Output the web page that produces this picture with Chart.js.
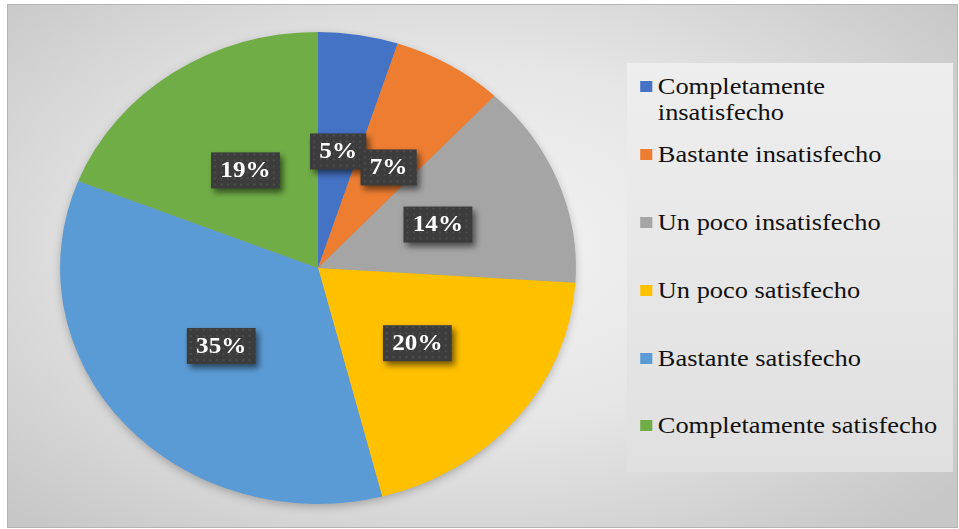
<!DOCTYPE html>
<html>
<head>
<meta charset="utf-8">
<script src="https://cdn.jsdelivr.net/npm/chart.js@4"></script>
<style>
  html, body { margin: 0; padding: 0; background: #ffffff; }
  #marco {
    position: absolute; left: 7px; top: 4px; width: 949px; height: 522px;
    border: 1px solid #b4b4b4;
    background: radial-gradient(ellipse 68% 72% at 48% 46%, #f4f4f4 0%, #e6e6e6 48%, #c7c7c7 100%);
  }
  #grafico { position: absolute; left: 0; top: 0; }
  #leyenda {
    position: absolute; left: 627px; top: 63px; width: 326px; height: 409px;
    background: linear-gradient(#eeeeee, #e0e0e0);
    overflow: hidden;
  }
  #leyenda .interior {
    width: 296px; padding-top: 10px;
    transform: scaleX(1.1); transform-origin: 0 0;
    font-family: "Liberation Serif", "Times New Roman", serif;
    font-size: 24px; line-height: 26px; color: #111;
  }
  #leyenda .item { height: 67.9px; display: flex; align-items: flex-start; }
  #leyenda .cuadro { width: 11px; height: 11px; margin: 8px 5px 0 12px; flex: none; }
  #leyenda .texto { width: 262px; }
</style>
</head>
<body>
<div id="marco"></div>
<canvas id="grafico" width="959" height="529"></canvas>
<div id="leyenda"><div class="interior"></div></div>
<script>
// Satisfacción: porcentaje por categoría
const categorias = [
  'Completamente insatisfecho',
  'Bastante insatisfecho',
  'Un poco insatisfecho',
  'Un poco satisfecho',
  'Bastante satisfecho',
  'Completamente satisfecho'
];
const porcentajes = [5, 7, 14, 20, 35, 19];
const colores = ['#4472C4', '#ED7D31', '#A5A5A5', '#FFC000', '#5B9BD5', '#70AD47'];

// el pastel va un poco estirado a lo ancho
const estiramiento = 1.093;
// pequeño desplazamiento de la etiqueta del 7% junto a la del 5%
const ajusteEtiquetas = { 1: [5, 1] };

function patronOscuro(ctx) {
  const c = document.createElement('canvas');
  c.width = 6; c.height = 6;
  const g = c.getContext('2d');
  g.fillStyle = '#3c3c3c';
  g.fillRect(0, 0, 6, 6);
  g.fillStyle = '#4c4c4c';
  g.fillRect(1, 1, 2, 2);
  return ctx.createPattern(c, 'repeat');
}

const pastelEstirado = {
  id: 'pastelEstirado',
  beforeDatasetsDraw(chart) {
    const arc = chart.getDatasetMeta(0).data[0];
    const { x, y, outerRadius } = arc.getProps(['x', 'y', 'outerRadius'], true);
    const ctx = chart.ctx;
    ctx.save();
    ctx.translate(x, y);
    ctx.scale(estiramiento, 1);
    ctx.translate(-x, -y);
    // sombra suave bajo el pastel
    ctx.save();
    ctx.shadowColor = 'rgba(0,0,0,0.28)';
    ctx.shadowBlur = 10;
    ctx.shadowOffsetY = 3;
    ctx.fillStyle = '#999';
    ctx.beginPath();
    ctx.arc(x, y, outerRadius - 1, 0, Math.PI * 2);
    ctx.fill();
    ctx.restore();
  },
  afterDatasetsDraw(chart) {
    chart.ctx.restore();
  }
};

const etiquetas = {
  id: 'etiquetas',
  afterDraw(chart) {
    const ctx = chart.ctx;
    const meta = chart.getDatasetMeta(0);
    const relleno = patronOscuro(ctx);
    meta.data.forEach((arc, i) => {
      const cx = arc.x;
      const p = arc.tooltipPosition(true);
      const aj = ajusteEtiquetas[i] || [0, 0];
      const x = cx + (p.x - cx) * estiramiento + aj[0];
      const y = p.y + aj[1];
      const texto = porcentajes[i] + '%';
      ctx.save();
      ctx.translate(x, y);
      ctx.scale(estiramiento, 1);
      ctx.font = 'bold 23px "Liberation Serif", "Times New Roman", serif';
      const w = ctx.measureText(texto).width + 17;
      const h = 36;
      ctx.save();
      ctx.shadowColor = 'rgba(0,0,0,0.55)';
      ctx.shadowBlur = 6;
      ctx.shadowOffsetX = 3;
      ctx.shadowOffsetY = 4;
      ctx.fillStyle = relleno;
      ctx.fillRect(-w / 2, -h / 2, w, h);
      ctx.restore();
      ctx.fillStyle = '#ffffff';
      ctx.textAlign = 'center';
      ctx.textBaseline = 'middle';
      ctx.fillText(texto, 0, 1);
      ctx.restore();
    });
  }
};

const grafico = new Chart(document.getElementById('grafico'), {
  type: 'pie',
  data: {
    labels: categorias,
    datasets: [{
      data: porcentajes,
      backgroundColor: colores,
      borderWidth: 0
    }]
  },
  options: {
    responsive: false,
    animation: false,
    layout: { padding: { top: 32, bottom: 25, left: 82, right: 405 } },
    plugins: {
      legend: { display: false },
      tooltip: { enabled: false }
    }
  },
  plugins: [pastelEstirado, etiquetas]
});

// leyenda en HTML a partir de las mismas categorías y colores
const interior = document.querySelector('#leyenda .interior');
categorias.forEach((nombre, i) => {
  const item = document.createElement('div');
  item.className = 'item';
  item.innerHTML = `<span class="cuadro" style="background:${colores[i]}"></span><span class="texto">${nombre}</span>`;
  interior.appendChild(item);
});
</script>
</body>
</html>
